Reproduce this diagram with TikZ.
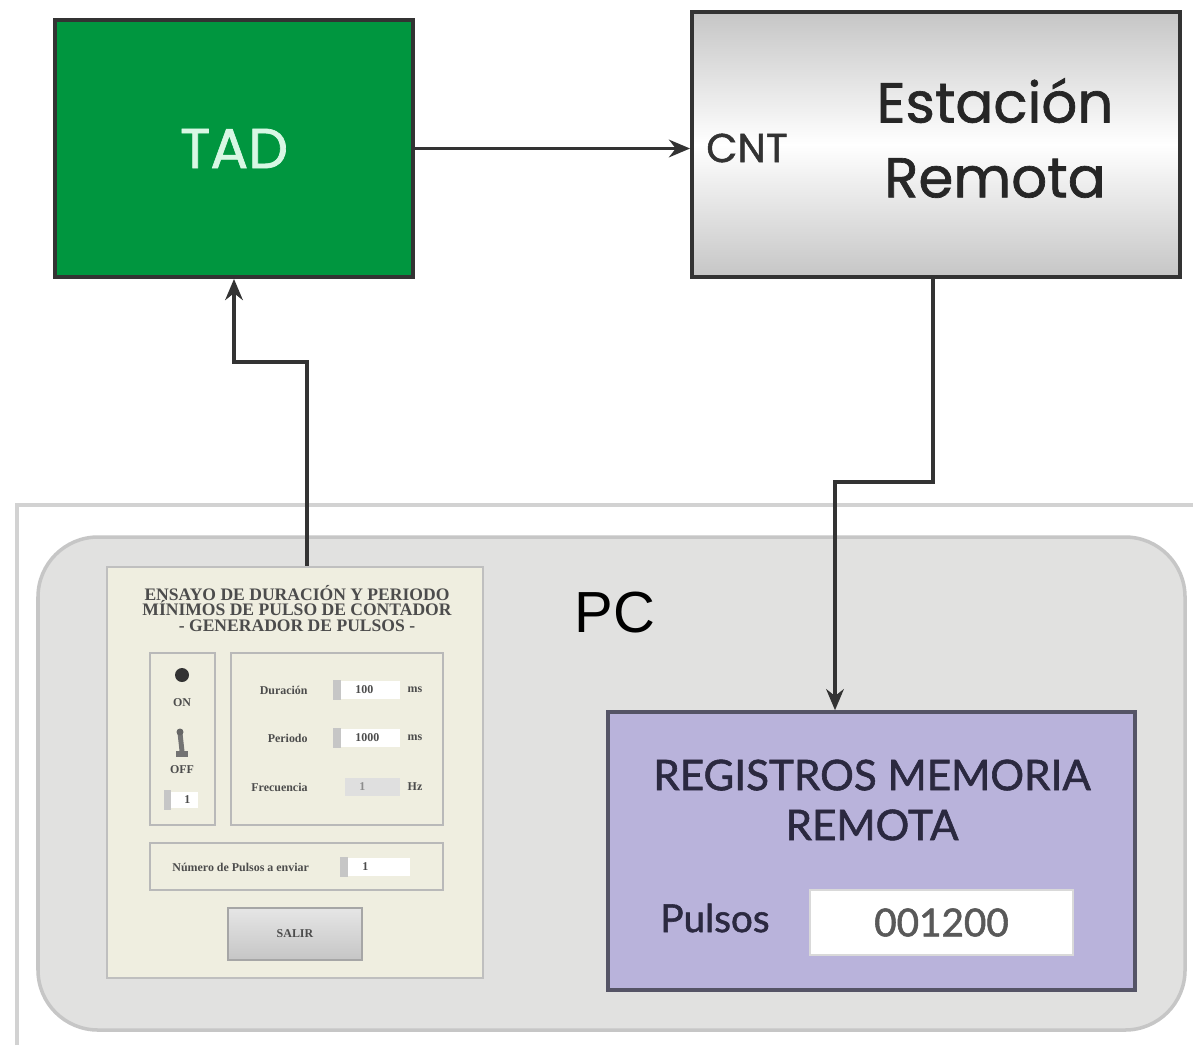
\documentclass[tikz,border=0pt]{standalone}
\usepackage{fontspec}
\usepackage{tikz}
\usetikzlibrary{arrows.meta, calc}
\newfontfamily\geofont[FakeBold=1.2]{Poppins}
\newfontfamily\latofont[FakeBold=1.4]{Lato}
\newfontfamily\pcfont{Liberation Sans}
\newfontfamily\panelfont{Liberation Serif}
\definecolor{tadgreen}{HTML}{00963F}
\definecolor{tadtext}{HTML}{D8F7E4}
\definecolor{pcgray}{HTML}{E1E1E0}
\definecolor{panelcream}{HTML}{EFEEE0}
\definecolor{reglila}{HTML}{B9B3DB}
\definecolor{regink}{HTML}{2B2940}
\definecolor{wire}{HTML}{333333}

\begin{document}
\begin{tikzpicture}[>={Stealth[length=6pt,width=5pt]},
  flow/.style={->, draw=wire, line width=1.1pt},
  block/.style={draw=wire, line width=1.1pt, inner sep=0pt},
  ctrl/.style={draw=gray!55, line width=0.7pt},
  tiny/.style={font=\panelfont\bfseries\fontsize{3.4}{4}\selectfont, text=black!70}]
  \useasboundingbox[fill=white] (0,0) rectangle (11.93,-10.45);
  % window edge
  \draw[gray!35, line width=1.3pt] (0.17,-10.45) |- (11.93,-5.05);
  % PC
  \node[draw=gray!45, line width=1pt, fill=pcgray, rounded corners=0.6cm, minimum width=11.47cm, minimum height=4.93cm] (pc) at (6.115,-7.835) {};
  \node[font=\pcfont\fontsize{16.5}{18}\selectfont] (pclabel) at (6.15,-6.13) {PC};
  % top blocks
  \node[block, fill=tadgreen, minimum width=3.58cm, minimum height=2.57cm, text=tadtext, font=\geofont\fontsize{16}{18}\selectfont] (tad) at (2.34,-1.485) {TAD};
  \node[block, top color=gray!45, bottom color=gray!45, middle color=white, minimum width=4.88cm, minimum height=2.65cm] (er) at (9.36,-1.445) {};
  \node[font=\geofont\fontsize{16}{21.3}\selectfont, align=center, text=black!85] (ername) at (9.95,-1.38) {Estación\\Remota};
  \node[font=\geofont\fontsize{11.5}{13}\selectfont, text=black!80] (cnt) at (7.47,-1.48) {CNT};
  % panel
  \node[draw=gray!50, line width=0.8pt, fill=panelcream, minimum width=3.76cm, minimum height=4.11cm, inner sep=0pt] (panel) at (2.95,-7.725) {};
  \node[font=\panelfont\bfseries\fontsize{5}{4.5}\selectfont, text=black!70, align=center] (ptitle) at (2.97,-6.085) {ENSAYO DE DURACIÓN Y PERIODO\\MÍNIMOS DE PULSO DE CONTADOR\\- GENERADOR DE PULSOS -};
  \draw[ctrl] (1.50,-6.53) rectangle (2.15,-8.25);
  \draw[ctrl] (2.31,-6.53) rectangle (4.43,-8.25);
  \draw[ctrl] (1.50,-8.43) rectangle (4.43,-8.90);
  \fill[black!80] (1.82,-6.75) circle (0.07);
  \node[tiny] (onlab) at (1.82,-7.03) {ON};
  \fill[black!55] (1.76,-7.57) rectangle (1.88,-7.51);
  \draw[black!55, line width=1.4pt] (1.82,-7.51) -- (1.80,-7.33);
  \fill[black!60] (1.80,-7.32) circle (0.035);
  \node[tiny] (offlab) at (1.82,-7.70) {OFF};
  \fill[gray!45] (1.64,-7.90) rectangle (1.71,-8.10);
  \fill[white] (1.71,-7.92) rectangle (1.98,-8.08);
  \node[tiny, anchor=west] (leftval) at (1.72,-8.0) {1};
  \foreach \y/\lab/\val in {-6.90/Duración/100, -7.38/Periodo/1000} {
    \node[tiny, anchor=east] at (3.20,\y) {\lab};
    \fill[gray!45] (3.33,\y-0.1) rectangle (3.41,\y+0.1);
    \fill[white] (3.41,\y-0.09) rectangle (4.00,\y+0.09);
    \node[tiny, anchor=west] at (3.43,\y) {\val};
    \node[tiny] at (4.15,\y) {ms};
  }
  \node[tiny, anchor=east] (freqlab) at (3.20,-7.87) {Frecuencia};
  \fill[gray!25] (3.45,-7.78) rectangle (4.00,-7.96);
  \node[tiny, anchor=west, text=black!45] (freqval) at (3.47,-7.87) {1};
  \node[tiny] (hz) at (4.15,-7.87) {Hz};
  \node[tiny, anchor=west] (numlab) at (1.60,-8.67) {Número de Pulsos a enviar};
  \fill[gray!45] (3.40,-8.57) rectangle (3.48,-8.77);
  \fill[white] (3.48,-8.58) rectangle (4.10,-8.76);
  \node[tiny, anchor=west] (numval) at (3.50,-8.67) {1};
  \node[draw=gray!70, line width=0.8pt, top color=gray!20, bottom color=gray!45, minimum width=1.34cm, minimum height=0.52cm, tiny] (salir) at (2.95,-9.34) {SALIR};
  % registers
  \node[draw=regink!80, line width=1pt, fill=reglila, minimum width=5.27cm, minimum height=2.78cm] (reg) at (8.715,-8.51) {};
  \node[font=\latofont\fontsize{12}{14.2}\selectfont, text=regink, align=center] (regname) at (8.72,-8.0) {REGISTROS MEMORIA\\REMOTA};
  \node[font=\latofont\fontsize{11}{13}\selectfont, text=regink] (pulsos) at (7.15,-9.18) {Pulsos};
  \node[fill=white, draw=gray!30, minimum width=2.63cm, minimum height=0.65cm, font=\latofont\fontsize{11}{13}\selectfont, text=black!65] (count) at (9.415,-9.225) {001200};
  % connectors
  \coordinate (bend1) at (2.34,-3.62);
  \coordinate (bend2) at (8.35,-4.82);
  \draw[flow] (tad.east) -- (tad.east -| er.west);
  \draw[flow] ([xshift=-0.03cm]er.south) |- (bend2) -- (bend2 |- reg.north);
  \draw[flow] ([xshift=0.12cm]panel.north) |- (bend1) -- (tad.south);
\end{tikzpicture}
\end{document}
